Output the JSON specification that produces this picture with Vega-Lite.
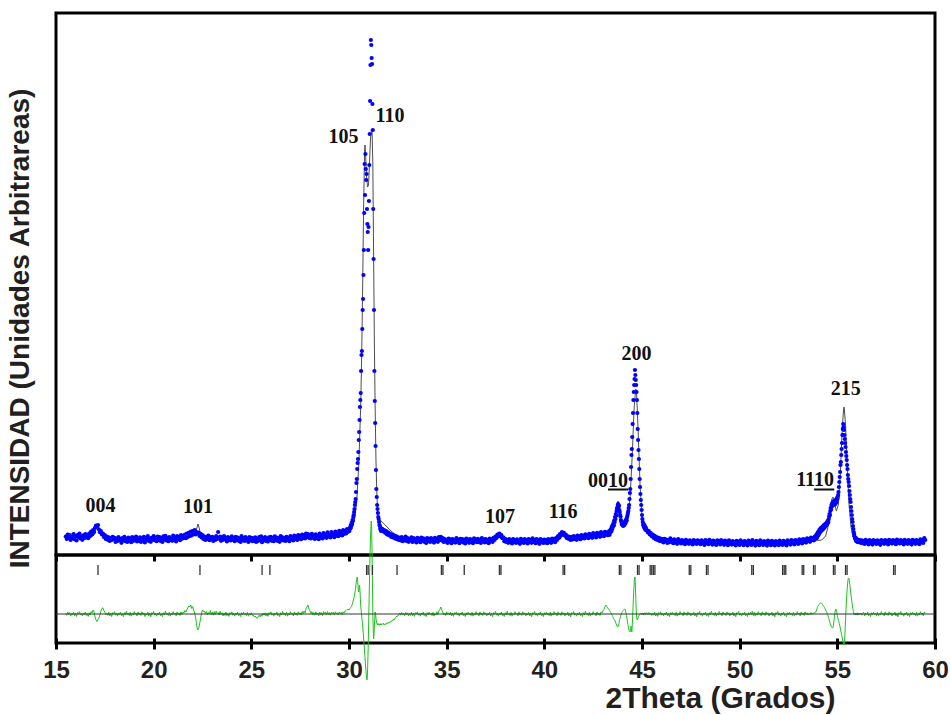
{
"$schema": "https://vega.github.io/schema/vega-lite/v6.json",
"background": "white",
"padding": {"left": 4, "top": 11, "right": 5, "bottom": 0},
"bounds": "flush",
"spacing": 0,
"config": {"view": {"stroke": "black", "strokeWidth": 3}, "font": "Liberation Sans", "axis": {"grid": false}},
"data": {"values": "x,o,d\n15.50,185,8\n15.55,160,-12\n15.60,205,20\n15.65,172,-4\n15.70,198,14\n15.75,150,-22\n15.80,184,3\n15.85,168,-9\n15.90,210,18\n15.95,158,-18\n16.00,190,6\n16.05,145,-25\n16.10,200,15\n16.15,178,0\n16.20,215,24\n16.25,165,-10\n16.30,187,5\n16.35,152,-20\n16.40,196,11\n16.45,170,-6\n16.50,208,20\n16.55,176,-15\n16.60,195,2\n16.65,168,-24\n16.70,215,12\n16.75,190,-8\n16.80,235,25\n16.85,205,10\n16.90,248,40\n16.95,230,20\n17.00,272,-30\n17.05,295,-60\n17.10,282,-75\n17.15,300,-55\n17.20,255,-40\n17.25,228,-10\n17.30,240,30\n17.35,205,55\n17.40,215,62\n17.45,180,35\n17.50,198,20\n17.55,160,-5\n17.60,185,10\n17.65,152,-14\n17.70,176,18\n17.75,140,-20\n17.80,168,6\n17.85,150,-26\n17.90,182,14\n17.95,158,0\n18.00,172,25\n18.05,130,-12\n18.10,165,5\n18.15,140,-22\n18.20,178,10\n18.25,148,-6\n18.30,160,20\n18.35,122,-17\n18.40,170,1\n18.45,145,-26\n18.50,182,13\n18.55,138,-8\n18.60,158,27\n18.65,130,-5\n18.70,175,7\n18.75,150,-16\n18.80,162,17\n18.85,128,-22\n18.90,180,4\n18.95,140,-11\n19.00,168,24\n19.05,150,-3\n19.10,185,9\n19.15,135,-19\n19.20,160,21\n19.25,142,-7\n19.30,176,8\n19.35,130,-15\n19.40,166,22\n19.45,148,-4\n19.50,182,12\n19.55,126,-25\n19.60,170,3\n19.65,152,-10\n19.70,188,18\n19.75,140,-20\n19.80,164,6\n19.85,132,-28\n19.90,172,14\n19.95,155,0\n20.00,190,26\n20.05,148,-12\n20.10,170,5\n20.15,138,-22\n20.20,184,10\n20.25,152,-6\n20.30,178,20\n20.35,140,-17\n20.40,168,1\n20.45,130,-26\n20.50,186,13\n20.55,155,-8\n20.60,192,28\n20.65,146,-5\n20.70,172,7\n20.75,138,-16\n20.80,180,17\n20.85,150,-22\n20.90,165,4\n20.95,142,-11\n21.00,195,24\n21.05,158,-3\n21.10,176,9\n21.15,136,-19\n21.20,188,21\n21.25,160,-7\n21.30,180,8\n21.35,148,-15\n21.40,200,22\n21.45,162,-4\n21.50,190,20\n21.55,170,10\n21.60,205,35\n21.65,168,20\n21.70,215,45\n21.75,180,60\n21.80,222,80\n21.85,190,70\n21.90,235,90\n21.95,200,55\n22.00,240,75\n22.05,210,40\n22.10,248,10\n22.15,205,-40\n22.20,230,-110\n22.25,215,-160\n22.30,225,-150\n22.35,190,-100\n22.40,212,-50\n22.45,175,10\n22.50,198,40\n22.55,160,20\n22.60,185,30\n22.65,150,5\n22.70,178,25\n22.75,162,-10\n22.80,195,15\n22.85,148,0\n22.90,176,35\n22.95,158,-5\n23.00,182,20\n23.05,140,-12\n23.10,172,25\n23.15,150,-8\n23.20,188,30\n23.25,160,5\n23.30,230,15\n23.35,165,-10\n23.40,184,28\n23.45,142,-4\n23.50,175,12\n23.55,152,-20\n23.60,190,8\n23.65,158,-15\n23.70,172,20\n23.75,136,-18\n23.80,180,6\n23.85,150,-24\n23.90,168,14\n23.95,145,0\n24.00,186,22\n24.05,155,-12\n24.10,170,5\n24.15,138,-22\n24.20,182,10\n24.25,150,-6\n24.30,175,20\n24.35,142,-17\n24.40,165,1\n24.45,130,-26\n24.50,188,13\n24.55,152,-8\n24.60,170,18\n24.65,140,-5\n24.70,178,7\n24.75,148,-16\n24.80,164,17\n24.85,130,-22\n24.90,180,4\n24.95,150,-11\n25.00,172,14\n25.05,138,-13\n25.10,166,-10\n25.15,140,-30\n25.20,176,-20\n25.25,130,-38\n25.30,160,-42\n25.35,142,-28\n25.40,178,-12\n25.45,150,-30\n25.50,186,-5\n25.55,128,-22\n25.60,168,8\n25.65,155,-10\n25.70,180,12\n25.75,140,-20\n25.80,162,6\n25.85,134,-24\n25.90,176,14\n25.95,150,0\n26.00,182,22\n26.05,142,-12\n26.10,170,5\n26.15,138,-22\n26.20,186,10\n26.25,152,-6\n26.30,174,20\n26.35,140,-17\n26.40,166,1\n26.45,132,-26\n26.50,188,13\n26.55,150,-8\n26.60,176,28\n26.65,146,-5\n26.70,168,7\n26.75,140,-16\n26.80,182,17\n26.85,152,-22\n26.90,170,4\n26.95,138,-11\n27.00,190,24\n27.05,158,-3\n27.10,176,9\n27.15,146,-19\n27.20,195,21\n27.25,160,-7\n27.30,182,8\n27.35,150,-15\n27.40,200,22\n27.45,166,-4\n27.50,188,12\n27.55,158,-10\n27.60,204,26\n27.65,170,5\n27.70,196,30\n27.75,165,10\n27.80,215,55\n27.85,182,70\n27.90,208,90\n27.95,172,50\n28.00,200,30\n28.05,165,5\n28.10,212,24\n28.15,175,-6\n28.20,194,15\n28.25,160,-12\n28.30,206,22\n28.35,172,-3\n28.40,190,10\n28.45,158,-18\n28.50,215,20\n28.55,176,-8\n28.60,198,14\n28.65,165,-15\n28.70,220,24\n28.75,180,2\n28.80,202,18\n28.85,172,-10\n28.90,226,25\n28.95,185,-5\n29.00,205,14\n29.05,175,-12\n29.10,230,20\n29.15,190,4\n29.20,210,18\n29.25,178,-8\n29.30,235,22\n29.35,195,2\n29.40,215,12\n29.45,188,-10\n29.50,242,20\n29.55,200,4\n29.60,225,16\n29.65,195,-6\n29.70,248,22\n29.75,210,10\n29.80,238,30\n29.85,215,35\n29.90,260,45\n29.95,232,40\n30.00,250,50\n30.02,240,45\n30.04,262,55\n30.06,280,60\n30.08,268,62\n30.10,300,70\n30.12,290,75\n30.14,322,85\n30.16,310,90\n30.18,350,110\n30.20,340,120\n30.22,380,140\n30.24,400,150\n30.26,430,170\n30.28,460,190\n30.30,500,210\n30.32,530,240\n30.34,560,260\n30.36,630,300\n30.38,720,330\n30.40,760,350\n30.42,860,370\n30.44,920,340\n30.46,960,280\n30.48,1030,230\n30.50,1150,220\n30.52,1230,260\n30.54,1350,290\n30.56,1480,240\n30.58,1550,160\n30.60,1620,80\n30.62,1840,40\n30.64,2000,0\n30.66,2040,-40\n30.68,2260,-80\n30.70,2450,-120\n30.72,2560,-170\n30.74,2800,-220\n30.76,3050,-280\n30.78,3420,-330\n30.80,3910,-390\n30.82,3600,-440\n30.84,4010,-500\n30.86,3860,-550\n30.88,3750,-600\n30.90,3810,-640\n30.92,3460,-660\n30.94,3310,-620\n30.96,3230,-500\n30.98,3050,-350\n31.00,3280,-150\n31.02,3540,50\n31.04,3900,250\n31.06,4210,450\n31.08,4540,620\n31.10,4900,760\n31.12,5150,870\n31.14,5100,930\n31.16,4970,850\n31.18,4910,600\n31.20,4510,300\n31.22,4250,0\n31.24,3460,-150\n31.26,2960,-250\n31.28,2450,-200\n31.30,1840,-120\n31.32,1540,-40\n31.34,1320,20\n31.36,1090,0\n31.38,850,-40\n31.40,660,-70\n31.42,580,-90\n31.44,500,-100\n31.46,460,-110\n31.48,420,-95\n31.50,380,-105\n31.52,360,-110\n31.54,330,-98\n31.56,300,-112\n31.58,290,-100\n31.60,260,-108\n31.62,270,-96\n31.64,240,-110\n31.66,250,-100\n31.70,262,-105\n31.75,235,-92\n31.80,250,-110\n31.85,222,-98\n31.90,238,-104\n31.95,205,-88\n32.00,226,-96\n32.05,198,-80\n32.10,215,-85\n32.15,182,-70\n32.20,205,-72\n32.25,175,-55\n32.30,196,-60\n32.35,165,-42\n32.40,188,-35\n32.45,158,-20\n32.50,180,-22\n32.55,150,-5\n32.60,172,10\n32.65,145,-12\n32.70,178,14\n32.75,138,-6\n32.80,166,8\n32.85,148,-18\n32.90,184,16\n32.95,140,-4\n33.00,170,12\n33.05,132,-20\n33.10,162,6\n33.15,145,-15\n33.20,176,20\n33.25,130,-18\n33.30,168,6\n33.35,142,-24\n33.40,158,14\n33.45,125,0\n33.50,172,22\n33.55,145,-12\n33.60,160,5\n33.65,128,-22\n33.70,174,10\n33.75,140,-6\n33.80,166,20\n33.85,132,-17\n33.90,155,1\n33.95,120,-26\n34.00,170,13\n34.05,142,-8\n34.10,162,18\n34.15,130,-5\n34.20,168,7\n34.25,138,-16\n34.30,154,17\n34.35,124,-22\n34.40,172,4\n34.45,140,-11\n34.50,160,24\n34.55,132,-3\n34.60,178,30\n34.65,150,45\n34.70,182,70\n34.75,146,40\n34.80,168,20\n34.85,130,-7\n34.90,158,8\n34.95,136,-15\n35.00,150,22\n35.05,120,-4\n35.10,164,12\n35.15,138,-10\n35.20,155,20\n35.25,118,-20\n35.30,160,6\n35.35,132,-24\n35.40,150,14\n35.45,124,0\n35.50,170,22\n35.55,140,-12\n35.60,152,5\n35.65,118,-22\n35.70,162,10\n35.75,135,-6\n35.80,158,20\n35.85,126,-17\n35.90,148,1\n35.95,115,-26\n36.00,165,13\n36.05,138,-8\n36.10,155,18\n36.15,122,-5\n36.20,160,7\n36.25,134,-16\n36.30,150,17\n36.35,118,-22\n36.40,166,4\n36.45,136,-11\n36.50,154,24\n36.55,128,-3\n36.60,162,9\n36.65,130,-19\n36.70,150,21\n36.75,120,-7\n36.80,168,8\n36.85,140,-15\n36.90,156,22\n36.95,126,-4\n37.00,160,12\n37.05,132,-20\n37.10,150,6\n37.15,118,-10\n37.20,165,18\n37.25,140,-20\n37.30,158,6\n37.35,130,-28\n37.40,172,14\n37.45,150,0\n37.50,185,26\n37.55,170,-12\n37.60,205,5\n37.65,190,-22\n37.70,215,10\n37.75,185,-6\n37.80,200,20\n37.85,168,-17\n37.90,176,1\n37.95,138,-26\n38.00,162,13\n38.05,130,-8\n38.10,150,28\n38.15,122,-5\n38.20,158,7\n38.25,128,-16\n38.30,146,17\n38.35,116,-22\n38.40,160,4\n38.45,132,-11\n38.50,150,24\n38.55,120,-3\n38.60,156,9\n38.65,128,-19\n38.70,145,21\n38.75,112,-7\n38.80,162,8\n38.85,135,-15\n38.90,150,22\n38.95,120,-4\n39.00,158,12\n39.05,128,-20\n39.10,146,6\n39.15,115,-10\n39.20,160,18\n39.25,134,-20\n39.30,152,6\n39.35,122,-28\n39.40,166,14\n39.45,130,0\n39.50,150,26\n39.55,118,-12\n39.60,158,5\n39.65,126,-22\n39.70,146,10\n39.75,112,-6\n39.80,160,20\n39.85,132,-17\n39.90,150,1\n39.95,120,-26\n40.00,155,13\n40.05,125,-8\n40.10,148,18\n40.15,118,-5\n40.20,160,7\n40.25,130,-16\n40.30,152,17\n40.35,122,-22\n40.40,165,4\n40.45,138,-11\n40.50,158,24\n40.55,128,-3\n40.60,170,9\n40.65,150,-19\n40.70,188,21\n40.75,172,-7\n40.80,210,8\n40.85,198,-15\n40.90,228,22\n40.95,210,-4\n41.00,222,12\n41.05,196,-20\n41.10,205,6\n41.15,170,-10\n41.20,186,18\n41.25,160,-20\n41.30,182,6\n41.35,150,-28\n41.40,178,14\n41.45,155,0\n41.50,190,26\n41.55,160,-12\n41.60,182,5\n41.65,152,-22\n41.70,194,10\n41.75,165,-6\n41.80,186,20\n41.85,158,-17\n41.90,200,1\n41.95,170,-26\n42.00,192,13\n42.05,165,-8\n42.10,206,28\n42.15,175,-5\n42.20,198,7\n42.25,168,-16\n42.30,212,17\n42.35,180,-22\n42.40,200,4\n42.45,172,-11\n42.50,218,24\n42.55,185,-3\n42.60,205,9\n42.65,176,-19\n42.70,222,21\n42.75,190,-7\n42.80,212,8\n42.85,182,-15\n42.90,228,22\n42.95,196,10\n43.00,215,30\n43.05,188,45\n43.10,232,70\n43.15,205,90\n43.20,226,75\n43.25,198,55\n43.30,215,50\n43.32,238,42\n43.34,202,35\n43.36,225,28\n43.38,248,20\n43.40,230,14\n43.42,262,8\n43.44,240,0\n43.46,285,-8\n43.48,262,-16\n43.50,300,-24\n43.52,288,-32\n43.54,320,-40\n43.56,298,-48\n43.58,345,-55\n43.60,330,-62\n43.62,380,-70\n43.64,360,-80\n43.66,410,-90\n43.68,395,-100\n43.70,440,-110\n43.72,470,-120\n43.74,455,-128\n43.76,500,-130\n43.78,510,-125\n43.80,480,-110\n43.82,495,-95\n43.84,450,-75\n43.86,430,-55\n43.88,400,-40\n43.90,385,-25\n43.92,350,-10\n43.94,335,0\n43.96,310,10\n43.98,320,18\n44.00,298,25\n44.02,315,30\n44.04,290,35\n44.06,305,40\n44.08,320,45\n44.10,300,48\n44.12,330,50\n44.14,315,45\n44.16,345,30\n44.18,330,10\n44.20,360,-15\n44.22,345,-35\n44.24,380,-55\n44.26,400,-80\n44.28,420,-105\n44.30,440,-130\n44.32,470,-150\n44.34,500,-165\n44.36,560,-175\n44.38,620,-180\n44.40,660,-170\n44.42,760,-150\n44.44,880,-120\n44.46,1000,-160\n44.48,1060,-180\n44.50,1180,-120\n44.52,1310,-40\n44.54,1420,60\n44.56,1550,150\n44.58,1630,240\n44.60,1700,310\n44.62,1760,360\n44.64,1850,370\n44.66,1800,300\n44.68,1750,180\n44.70,1700,60\n44.72,1630,-20\n44.74,1550,-50\n44.76,1420,-60\n44.78,1260,-50\n44.80,1150,-40\n44.82,1050,-30\n44.84,960,-20\n44.86,860,-10\n44.88,760,-5\n44.90,680,0\n44.92,610,10\n44.94,550,5\n44.96,500,0\n44.98,450,-5\n45.00,400,5\n45.02,360,10\n45.04,330,0\n45.06,300,-10\n45.08,310,5\n45.10,280,-5\n45.12,300,10\n45.14,265,0\n45.16,285,12\n45.18,250,-6\n45.20,270,8\n45.25,248,12\n45.30,225,-8\n45.35,238,15\n45.40,205,-4\n45.45,220,10\n45.50,188,-15\n45.55,205,6\n45.60,170,-12\n45.65,192,18\n45.70,158,-20\n45.75,178,5\n45.80,150,-24\n45.85,172,14\n45.90,140,-2\n45.95,165,22\n46.00,138,-12\n46.05,158,5\n46.10,126,-20\n46.15,162,10\n46.20,140,-6\n46.25,155,20\n46.30,120,-17\n46.35,150,1\n46.40,128,-26\n46.45,166,13\n46.50,135,-8\n46.55,148,18\n46.60,118,-5\n46.65,156,7\n46.70,126,-16\n46.75,142,17\n46.80,112,-22\n46.85,158,4\n46.90,128,-11\n46.95,145,24\n47.00,115,-3\n47.05,150,9\n47.10,122,-19\n47.15,138,21\n47.20,108,-7\n47.25,152,8\n47.30,126,-15\n47.35,140,22\n47.40,112,-4\n47.45,146,12\n47.50,118,-20\n47.55,135,6\n47.60,105,-10\n47.65,150,18\n47.70,124,-20\n47.75,138,6\n47.80,110,-28\n47.85,146,14\n47.90,120,0\n47.95,140,26\n48.00,108,-12\n48.05,146,5\n48.10,116,-22\n48.15,134,10\n48.20,100,-6\n48.25,148,20\n48.30,122,-17\n48.35,138,1\n48.40,108,-26\n48.45,152,13\n48.50,120,-8\n48.55,136,28\n48.60,104,-5\n48.65,144,7\n48.70,114,-16\n48.75,132,17\n48.80,100,-22\n48.85,146,4\n48.90,118,-11\n48.95,138,24\n49.00,106,-3\n49.05,150,9\n49.10,120,-19\n49.15,134,21\n49.20,102,-7\n49.25,144,8\n49.30,116,-15\n49.35,130,22\n49.40,98,-4\n49.45,146,12\n49.50,118,-20\n49.55,134,6\n49.60,104,-10\n49.65,140,18\n49.70,112,-20\n49.75,128,6\n49.80,96,-28\n49.85,142,14\n49.90,116,0\n49.95,132,26\n50.00,100,-12\n50.05,146,5\n50.10,118,-22\n50.15,130,10\n50.20,98,-6\n50.25,140,20\n50.30,112,-17\n50.35,128,1\n50.40,96,-26\n50.45,144,13\n50.50,114,-8\n50.55,132,18\n50.60,100,-5\n50.65,150,30\n50.70,118,-16\n50.75,130,17\n50.80,94,-22\n50.85,142,4\n50.90,112,-11\n50.95,128,24\n51.00,98,-3\n51.05,146,9\n51.10,116,-19\n51.15,132,21\n51.20,100,-7\n51.25,140,8\n51.30,110,-15\n51.35,126,22\n51.40,94,-4\n51.45,144,12\n51.50,114,-20\n51.55,130,6\n51.60,98,-10\n51.65,142,18\n51.70,112,-20\n51.75,126,6\n51.80,96,-28\n51.85,140,14\n51.90,110,0\n51.95,130,26\n52.00,98,-12\n52.05,144,5\n52.10,116,-22\n52.15,132,10\n52.20,100,-6\n52.25,142,20\n52.30,112,-17\n52.35,128,1\n52.40,96,-26\n52.45,146,13\n52.50,118,-8\n52.55,134,18\n52.60,104,-5\n52.65,148,7\n52.70,120,-16\n52.75,136,17\n52.80,106,-22\n52.85,150,4\n52.90,124,-11\n52.95,140,24\n53.00,110,-3\n53.05,156,9\n53.10,128,-19\n53.15,146,21\n53.20,116,-7\n53.25,160,8\n53.30,132,-15\n53.35,150,22\n53.40,124,-4\n53.45,166,12\n53.50,140,-10\n53.55,158,6\n53.60,132,-5\n53.65,175,14\n53.70,150,-2\n53.75,168,10\n53.80,145,5\n53.85,185,18\n53.90,175,20\n53.92,200,30\n53.94,168,40\n53.96,210,55\n53.98,185,65\n54.00,225,75\n54.02,195,82\n54.04,235,88\n54.06,210,95\n54.08,248,100\n54.10,222,104\n54.12,260,108\n54.14,235,110\n54.16,268,112\n54.18,242,110\n54.20,275,106\n54.22,250,100\n54.24,282,95\n54.26,258,90\n54.28,290,84\n54.30,265,78\n54.32,298,72\n54.34,275,65\n54.36,305,58\n54.38,285,50\n54.40,312,42\n54.42,295,34\n54.44,320,25\n54.46,305,15\n54.48,330,5\n54.50,318,-5\n54.52,345,-18\n54.54,330,-30\n54.56,360,-45\n54.58,385,-58\n54.60,410,-72\n54.62,400,-85\n54.64,440,-98\n54.66,470,-110\n54.68,455,-120\n54.70,500,-128\n54.72,485,-135\n54.74,520,-140\n54.76,505,-140\n54.78,530,-132\n54.80,500,-110\n54.82,540,-80\n54.84,515,-45\n54.86,530,-10\n54.88,505,20\n54.90,545,40\n54.92,520,50\n54.94,555,45\n54.96,530,30\n54.98,570,10\n55.00,560,-20\n55.02,580,-35\n55.04,600,-50\n55.06,630,-65\n55.08,680,-80\n55.10,730,-95\n55.12,780,-110\n55.14,830,-130\n55.16,900,-150\n55.18,930,-170\n55.20,1000,-190\n55.22,1060,-210\n55.24,1120,-230\n55.26,1200,-250\n55.28,1260,-270\n55.30,1310,-285\n55.32,1280,-300\n55.34,1250,-310\n55.36,1200,-290\n55.38,1160,-230\n55.40,1120,-150\n55.42,1080,-60\n55.44,1030,30\n55.46,990,110\n55.48,950,180\n55.50,900,240\n55.52,860,290\n55.54,800,330\n55.56,760,355\n55.58,730,360\n55.60,690,350\n55.62,640,320\n55.64,600,290\n55.66,560,260\n55.68,530,220\n55.70,480,190\n55.72,440,160\n55.74,400,130\n55.76,360,100\n55.78,330,70\n55.80,290,45\n55.82,260,25\n55.84,230,10\n55.86,210,0\n55.88,185,-8\n55.90,170,10\n55.92,160,-4\n55.94,172,8\n55.96,140,-10\n55.98,158,6\n56.00,135,-6\n56.02,155,12\n56.04,130,-12\n56.06,150,4\n56.08,128,-8\n56.10,145,10\n56.15,150,-5\n56.20,122,10\n56.25,146,-12\n56.30,118,6\n56.35,140,18\n56.40,110,-20\n56.45,152,8\n56.50,126,-6\n56.55,138,20\n56.60,106,-17\n56.65,148,1\n56.70,120,-26\n56.75,136,13\n56.80,104,-8\n56.85,150,18\n56.90,124,-5\n56.95,140,7\n57.00,110,-16\n57.05,146,17\n57.10,118,-22\n57.15,134,4\n57.20,102,-11\n57.25,150,24\n57.30,124,-3\n57.35,140,9\n57.40,112,-19\n57.45,148,21\n57.50,120,-7\n57.55,136,8\n57.60,106,-15\n57.65,152,22\n57.70,126,-4\n57.75,142,12\n57.80,114,-20\n57.85,150,6\n57.90,122,-10\n57.95,138,18\n58.00,108,-20\n58.05,154,6\n58.10,128,-28\n58.15,144,14\n58.20,116,0\n58.25,150,26\n58.30,122,-12\n58.35,138,5\n58.40,106,-22\n58.45,152,10\n58.50,124,-6\n58.55,140,20\n58.60,112,-17\n58.65,148,1\n58.70,118,-26\n58.75,136,13\n58.80,104,-8\n58.85,152,18\n58.90,126,-5\n58.95,142,7\n59.00,112,-16\n59.05,150,17\n59.10,122,-22\n59.15,138,4\n59.20,108,-11\n59.25,156,24\n59.30,130,-3\n59.35,148,9\n59.40,120,-19\n59.45,170,21\n59.50,150,8", "format": {"type": "csv", "parse": {"x": "number", "o": "number", "d": "number"}}},
"vconcat": [
{
"width": 879, "height": 542,
"layer": [
{
"data": {"values": "x,c\n15.5,180\n16.0,178\n16.5,178\n16.8,182\n16.95,200\n17.05,260\n17.12,300\n17.18,285\n17.25,230\n17.35,190\n17.6,175\n18.0,165\n19.0,158\n20.0,160\n21.0,165\n21.6,172\n22.0,180\n22.12,205\n22.2,260\n22.27,310\n22.33,270\n22.4,205\n22.55,178\n23.0,170\n25.0,166\n27.0,168\n28.0,174\n29.0,186\n29.5,196\n29.8,215\n30.0,235\n30.1,260\n30.2,300\n30.3,380\n30.4,560\n30.5,900\n30.6,1500\n30.65,2000\n30.7,2700\n30.75,3500\n30.8,4050\n30.82,4100\n30.85,4000\n30.9,3780\n30.95,3680\n31.0,3700\n31.05,3920\n31.1,4160\n31.15,4260\n31.18,4250\n31.22,3900\n31.26,3000\n31.3,2100\n31.34,1450\n31.38,950\n31.42,650\n31.46,450\n31.5,370\n31.6,345\n31.7,330\n31.9,290\n32.1,250\n32.4,200\n32.6,170\n33.0,160\n35.0,152\n37.5,150\n37.65,170\n37.72,190\n37.8,168\n38.0,150\n40.0,148\n40.85,165\n40.95,195\n41.05,170\n41.2,165\n42.0,178\n43.0,198\n43.3,210\n43.5,240\n43.6,290\n43.7,420\n43.76,540\n43.8,530\n43.85,430\n43.9,340\n44.0,295\n44.1,300\n44.2,330\n44.3,400\n44.4,600\n44.5,1000\n44.6,1480\n44.68,1660\n44.72,1640\n44.8,1250\n44.9,700\n45.0,380\n45.1,270\n45.2,230\n45.4,200\n45.6,178\n46.0,152\n47.0,132\n50.0,125\n53.0,128\n53.5,138\n54.0,145\n54.2,150\n54.4,190\n54.55,300\n54.65,450\n54.72,560\n54.78,580\n54.85,520\n54.95,440\n55.05,500\n55.15,800\n55.25,1250\n55.32,1460\n55.35,1480\n55.42,1300\n55.5,900\n55.6,500\n55.7,280\n55.8,180\n56.0,140\n56.5,132\n59.5,130", "format": {"type": "csv", "parse": {"x": "number", "c": "number"}}},
"mark": {"type": "line", "color": "#4d4d4d", "strokeWidth": 1},
"encoding": {
"x": {"field": "x", "type": "quantitative", "scale": {"domain": [15, 60], "nice": false, "zero": false}, "axis": {"values": [15, 20, 25, 30, 35, 40, 45, 50, 55, 60], "labels": false, "domain": false, "ticks": true, "tickSize": 6, "tickWidth": 3, "tickColor": "black", "title": null}},
"y": {"field": "c", "type": "quantitative", "scale": {"domain": [0, 5420], "nice": false, "zero": false}, "axis": {"labels": false, "ticks": false, "domain": false, "title": "INTENSIDAD (Unidades Arbitrareas)", "titleFontSize": 28, "titleFontWeight": "bold", "titleColor": "#231f20", "titlePadding": 22, "titleY": 315}}
}
},
{
"mark": {"type": "circle", "size": 18, "color": "#0000ff", "opacity": 1},
"encoding": {"x": {"field": "x", "type": "quantitative"}, "y": {"field": "o", "type": "quantitative"}}
},
{
"data": {"values": [{"x": 17.28, "y": 430, "t": "004"}, {"x": 22.27, "y": 420, "t": "101"}, {"x": 29.72, "y": 4120, "t": "105"}, {"x": 32.10, "y": 4330, "t": "110"}, {"x": 37.73, "y": 320, "t": "107"}, {"x": 40.96, "y": 370, "t": "116"}, {"x": 43.26, "y": 680, "t": "0010"}, {"x": 44.72, "y": 1950, "t": "200"}, {"x": 53.86, "y": 690, "t": "1110"}, {"x": 55.43, "y": 1600, "t": "215"}]},
"mark": {"type": "text", "font": "Liberation Serif", "fontSize": 20, "fontWeight": "bold", "align": "center", "baseline": "alphabetic", "color": "#111111"},
"encoding": {"x": {"field": "x", "type": "quantitative"}, "y": {"field": "y", "type": "quantitative"}, "text": {"field": "t", "type": "nominal"}}
},
{
"data": {"values": [{"x": 43.26, "x2": 44.29, "y": 655}, {"x": 53.81, "x2": 54.84, "y": 655}]},
"mark": {"type": "rule", "color": "#111111", "strokeWidth": 2},
"encoding": {"x": {"field": "x", "type": "quantitative"}, "x2": {"field": "x2"}, "y": {"field": "y", "type": "quantitative"}}
}
]
},
{
"width": 879, "height": 88,
"layer": [
{
"mark": {"type": "line", "color": "#1ec41e", "strokeWidth": 1},
"encoding": {
"x": {"field": "x", "type": "quantitative", "scale": {"domain": [15, 60], "nice": false, "zero": false}, "axis": {"values": [15, 20, 25, 30, 35, 40, 45, 50, 55, 60], "domain": false, "offset": -5, "tickSize": 11, "tickWidth": 3, "tickColor": "black", "labelFlush": false, "labelFontSize": 24, "labelFontWeight": "bold", "labelColor": "#231f20", "labelPadding": 9, "title": "2Theta (Grados)", "titleFontSize": 30, "titleFontWeight": "bold", "titleColor": "#231f20", "titlePadding": 1, "titleX": 664, "titleAnchor": "middle"}},
"y": {"field": "d", "type": "quantitative", "scale": {"domain": [-290, 590], "nice": false, "zero": false}, "axis": null}
}
},
{
"data": {"values": [{}]},
"mark": {"type": "rule", "color": "#333333", "strokeWidth": 1},
"encoding": {"y": {"datum": 0, "type": "quantitative"}}
},
{
"data": {"values": [{"x": 17.15}, {"x": 22.37}, {"x": 25.55}, {"x": 25.95}, {"x": 30.9}, {"x": 30.98}, {"x": 31.2}, {"x": 32.46}, {"x": 34.73}, {"x": 34.81}, {"x": 35.9}, {"x": 37.7}, {"x": 37.78}, {"x": 40.96}, {"x": 41.04}, {"x": 43.84}, {"x": 43.92}, {"x": 44.77}, {"x": 44.85}, {"x": 45.42}, {"x": 45.5}, {"x": 45.58}, {"x": 45.66}, {"x": 47.42}, {"x": 47.5}, {"x": 48.3}, {"x": 48.38}, {"x": 50.62}, {"x": 50.7}, {"x": 52.2}, {"x": 52.28}, {"x": 52.36}, {"x": 53.2}, {"x": 53.28}, {"x": 53.78}, {"x": 53.86}, {"x": 54.8}, {"x": 54.88}, {"x": 55.42}, {"x": 55.5}, {"x": 57.88}, {"x": 57.96}]},
"mark": {"type": "rule", "color": "#333333", "strokeWidth": 1.3},
"encoding": {"x": {"field": "x", "type": "quantitative"}, "y": {"datum": 390, "type": "quantitative"}, "y2": {"datum": 490}}
}
]
}
]
}
